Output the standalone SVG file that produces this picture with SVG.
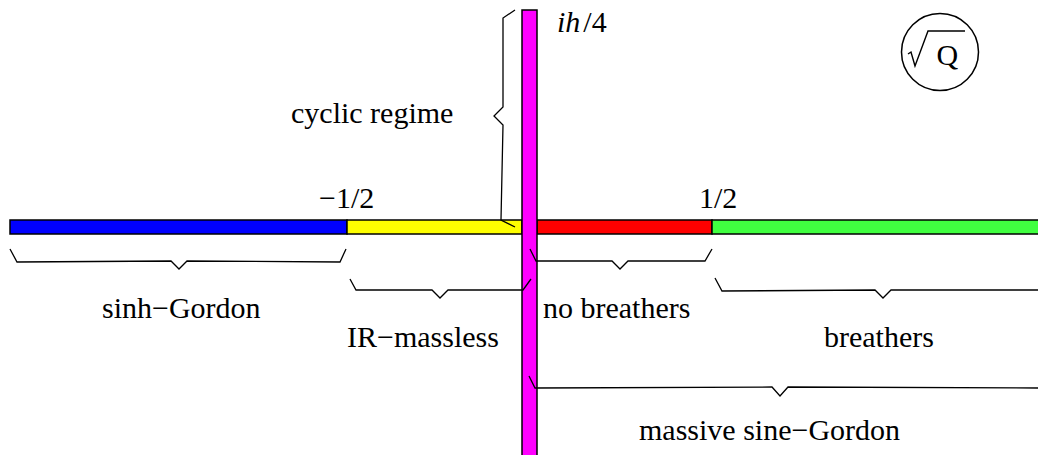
<svg xmlns="http://www.w3.org/2000/svg" width="1038" height="455" viewBox="0 0 1038 455">
<style>
.seg{stroke:#000;stroke-width:1.5}
.br{fill:none;stroke:#000;stroke-width:1.3;stroke-linejoin:miter}
.t{font-family:"Liberation Serif","Times New Roman",serif;font-size:30px;fill:#000}
</style>
<rect width="1038" height="455" fill="#fff"/>
<g id="sinh-gordon-segment"><rect class="seg" x="10" y="220" width="337" height="14" fill="#0000ff"/></g>
<g id="ir-massless-segment"><rect class="seg" x="347" y="220" width="175" height="14" fill="#ffff00"/></g>
<g id="no-breathers-segment"><rect class="seg" x="537" y="220" width="175" height="14" fill="#ff0000"/></g>
<g id="breathers-segment"><rect class="seg" x="712" y="220" width="330" height="14" fill="#40ff40"/></g>
<g id="imaginary-axis"><rect class="seg" x="522" y="10" width="15" height="460" fill="#ff00ff"/></g>
<g id="connectors">
<path class="br" d="M515,10 L503,18 L503,107 L494,116 L503,125 L501,220 L515,227"/>
<path class="br" d="M10,249 L17,262 L171,261 L179,269 L187,261 L340,262 L346,249"/>
<path class="br" d="M350,279 L356,290 L432,290 L440,298 L448,290 L523,290 L531,279"/>
<path class="br" d="M530,249 L536,261 L612,261 L620,269 L628,261 L705,261 L712,249"/>
<path class="br" d="M715,278 L722,291 L875,290 L883,298 L891,290 L1040,290"/>
<path class="br" d="M529,376 L535,388 L772,387 L780,396 L788,387 L1040,388"/>
</g>
<g id="sqrt-q">
<circle cx="940" cy="52" r="38.5" fill="none" stroke="#000" stroke-width="1.5"/>
<path d="M908,54 L911,52 L915,66 L928,31 L965,31" fill="none" stroke="#000" stroke-width="1.4"/>
<text class="t" x="936.5" y="65" font-size="29">Q</text>
</g>
<g id="label-ih4"><text class="t" x="557" y="32"><tspan font-style="italic">ih</tspan><tspan dx="3">/4</tspan></text></g>
<g id="label-cyclic"><text class="t" x="291" y="123">cyclic regime</text></g>
<g id="label-minus-half"><text class="t" x="319" y="208">−1/2</text></g>
<g id="label-half"><text class="t" x="699" y="208">1/2</text></g>
<g id="label-sinh"><text class="t" x="102" y="318">sinh−Gordon</text></g>
<g id="label-ir"><text class="t" x="347" y="347">IR−massless</text></g>
<g id="label-nobreathers"><text class="t" x="543" y="318">no breathers</text></g>
<g id="label-breathers"><text class="t" x="824" y="347">breathers</text></g>
<g id="label-massive"><text class="t" x="639" y="440">massive sine−Gordon</text></g>
</svg>
